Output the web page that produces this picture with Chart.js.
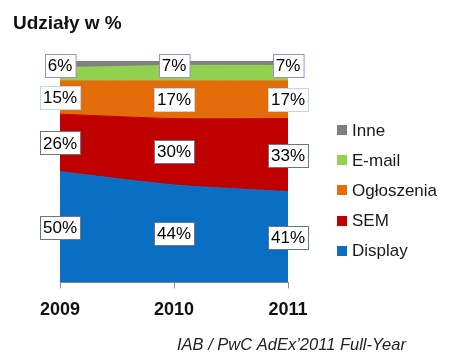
<!DOCTYPE html>
<html>
<head>
<meta charset="utf-8">
<script src="https://cdn.jsdelivr.net/npm/chart.js@4"></script>
<style>
  html, body { margin: 0; padding: 0; background: #fff; }
  #wrap { width: 450px; height: 364px; position: relative; }
</style>
</head>
<body>
<div id="wrap"><canvas id="chartUdzialy"></canvas></div>
<script>
// --- Datos (udziały w %) ---
const lata = ["2009", "2010", "2011"];
const display = [50, 44, 41];
const sem = [26, 30, 33];
const ogloszenia = [15, 17, 17];
const email = [6, 7, 7];
const inne = [3, 2, 2];

const nazwy = ["Display", "SEM", "Ogłoszenia", "E-mail", "Inne"];
const kolory = ["#0a6fc2", "#c00000", "#e46c0a", "#92d050", "#808080"];
const ramki = ["#6b7683", "#6b7683", "#b7dde8", "#a58bcb", null];

const FONT = "'Liberation Sans', Arial, sans-serif";

// etykiety w ramkach + tytuł + legenda + źródło
const dekoracje = {
  id: "dekoracje",
  afterDatasetsDraw(chart) {
    const ctx = chart.ctx;
    const y = chart.scales.y;
    ctx.save();
    ctx.font = "17px " + FONT;
    ctx.textAlign = "center";
    ctx.textBaseline = "middle";
    chart.data.datasets.forEach((ds, di) => {
      if (!ramki[di]) return;
      const meta = chart.getDatasetMeta(di);
      meta.data.forEach((pt, i) => {
        const gora = pt.y;
        const dol = di === 0 ? y.getPixelForValue(0) : chart.getDatasetMeta(di - 1).data[i].y;
        let cy = (gora + dol) / 2;
        if (di === 3) cy = y.getPixelForValue(100) + 4; // E-mail przy górnej krawędzi
        const txt = ds.data[i] + "%";
        const w = ctx.measureText(txt).width + 6;
        const h = 23;
        const x0 = Math.round(pt.x - w / 2) + 0.5;
        const y0 = Math.round(cy - h / 2) + 0.5;
        ctx.fillStyle = "#fff";
        ctx.fillRect(x0, y0, w, h);
        ctx.strokeStyle = ramki[di];
        ctx.lineWidth = 1;
        ctx.strokeRect(x0, y0, w, h);
        ctx.fillStyle = "#000";
        ctx.fillText(txt, pt.x, cy + 1);
      });
    });
    ctx.restore();
  },
  afterDraw(chart) {
    const ctx = chart.ctx;
    ctx.save();
    // tytuł
    ctx.fillStyle = "#111";
    ctx.font = "bold 19px " + FONT;
    ctx.textAlign = "left";
    ctx.textBaseline = "alphabetic";
    ctx.fillText("Udziały w %", 13, 29);
    // legenda (odwrócona kolejność)
    ctx.font = "17px " + FONT;
    ctx.textBaseline = "middle";
    for (let k = 0; k < nazwy.length; k++) {
      const di = nazwy.length - 1 - k;
      const cy = 130 + k * 30.2;
      ctx.fillStyle = kolory[di];
      ctx.fillRect(337, Math.round(cy - 5), 10, 10);
      ctx.fillStyle = "#1a1a1a";
      ctx.fillText(nazwy[di], 352, cy + 1);
    }
    // źródło
    ctx.font = "italic 16.5px " + FONT;
    ctx.textBaseline = "alphabetic";
    ctx.fillStyle = "#222";
    ctx.fillText("IAB / PwC AdEx’2011 Full-Year", 177, 350);
    ctx.restore();
  },
};

const serie = [display, sem, ogloszenia, email, inne];

new Chart(document.getElementById("chartUdzialy").getContext("2d"), {
  type: "line",
  data: {
    labels: lata,
    datasets: serie.map((d, i) => ({
      label: nazwy[i],
      data: d,
      backgroundColor: kolory[i],
      borderColor: kolory[i],
      borderWidth: 1,
      pointRadius: 0,
      tension: 0.2,
      fill: i === 0 ? "origin" : "-1",
    })),
  },
  options: {
    responsive: true,
    maintainAspectRatio: false,
    animation: false,
    layout: { padding: { left: 60, right: 162, top: 61, bottom: 32 } },
    plugins: {
      legend: { display: false },
      tooltip: { enabled: false },
    },
    scales: {
      x: {
        offset: false,
        grid: {
          display: true,
          drawOnChartArea: false,
          drawTicks: true,
          tickLength: 6,
          color: "#8c8c8c",
        },
        border: { display: true, color: "#8c8c8c" },
        ticks: {
          padding: 11,
          color: "#111",
          font: { family: FONT, size: 18, weight: "bold" },
        },
      },
      y: {
        display: false,
        stacked: true,
        min: 0,
        max: 100,
      },
    },
  },
  plugins: [dekoracje],
});
</script>
</body>
</html>
